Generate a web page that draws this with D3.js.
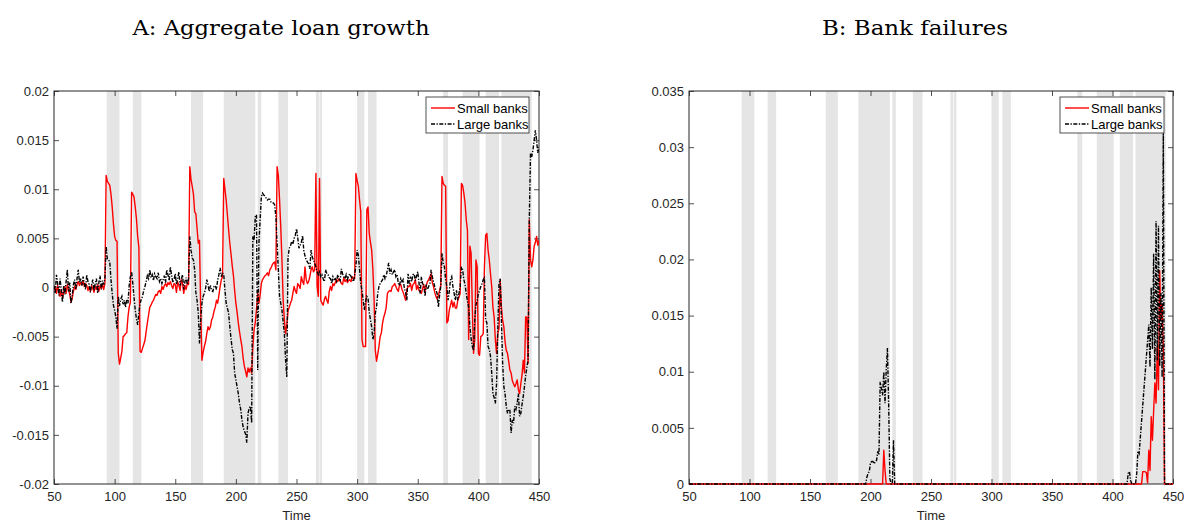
<!DOCTYPE html>
<html>
<head>
<meta charset="utf-8">
<script src="https://cdn.jsdelivr.net/npm/d3@7"></script>
<style>
  body { margin: 0; background: #fff; }
  svg { display: block; }
  .tick text { font-family: "Liberation Sans", Arial, sans-serif; font-size: 13px; fill: #262626; }
  .tick line { stroke: #262626; stroke-width: 0.8; }
</style>
</head>
<body>
<div id="chart"></div>
<script>
// Time axis: one observation per period, starting at T0
const T0 = 50;

// Shaded (crisis) periods, [start, end]
const shadedPeriods = [
  [93.5, 104], [115, 122], [163, 173], [190, 216], [218, 221], [235, 243],
  [266, 268.5], [269, 271], [300, 306], [309, 316], [371, 375], [387, 401],
  [406, 417], [419, 444]
];

// Panel A: aggregate loan growth, in units of 1e-3, t = 50..450
const smallLoanGrowth = [
  -0.3, 0.1, -0.6, 0.2, -0.4, -0.9, -0.2, -1.0, -0.5, 0.1,
  -0.6, 0.3, -0.2, -0.7, -1.5, -1.1, -0.4, 0.1, -0.2, 0.3,
  0.6, 0.2, 0.5, 0.3, 0.7, 0.1, 0.4, 0.2, -0.3, 0.1,
  -0.4, 0.2, -0.1, -0.5, 0.1, -0.2, 0.3, -0.4, 0.2, -0.1,
  0.3, -0.2, 0.4, 11.4, 10.8, 10.6, 10.4, 9.5, 8.2, 6.5,
  5.2, 4.8, 4.7, -6.7, -7.8, -7.2, -6.5, -5.0, -4.9, -4.7,
  -4.6, -3.0, -2.0, -1.5, 9.7, 9.5, 9.2, 8.2, 7.0, 5.2,
  4.1, -6.5, -6.6, -6.2, -5.8, -5.4, -4.5, -3.6, -2.8, -2.0,
  -1.8, -1.5, -1.3, -1.0, -0.7, -0.8, -0.4, -0.3, -0.6, 0.1,
  -0.2, 0.2, 0.4, 0.1, 0.5, 0.3, 0.6, 0.2, -0.1, 0.4,
  0.3, -0.5, 0.6, 0.2, -0.3, 0.8, 0.4, -0.6, 0.2, -0.2,
  0.5, 0.3, 12.3, 11.0, 10.3, 9.5, 7.7, 7.5, 6.0, 4.5,
  4.8, -2.3, -7.4, -6.6, -6.0, -5.5, -4.7, -4.0, -4.3, -4.0,
  -3.3, -3.0, -2.4, -2.0, -1.3, -1.6, -0.8, 0.1, 0.8, 1.1,
  11.1, 10.0, 8.9, 7.4, 5.9, 4.5, 3.4, 2.2, 1.2, -0.3,
  -1.6, -2.5, -3.6, -4.5, -5.3, -6.0, -7.2, -8.0, -8.5, -9.1,
  -8.2, -8.6, -8.2, -8.7, -6.0, -4.3, -3.6, -2.2, -0.6, -1.6,
  -0.8, 0.4, 0.8, 1.0, 1.2, 1.3, 1.5, 1.2, 1.8, 2.0,
  2.3, 2.5, 2.6, 1.8, 12.3, 11.4, 9.0, 6.2, 2.8, -1.3,
  -3.3, -4.7, -3.8, -2.4, -2.0, -1.6, -1.3, -0.6, 0.1, -0.3,
  -0.6, 0.4, 0.2, -0.1, 1.1, 0.6, 0.3, 2.1, 0.8, 0.4,
  0.6, 1.1, 1.8, 2.1, 1.6, 1.8, 11.6, 0.1, -0.9, 11.1,
  -1.3, -1.6, -1.8, -1.2, -0.9, -1.3, -1.6, -0.4, 0.1, -0.3,
  0.4, 0.2, 0.5, 0.8, 0.6, 0.9, 0.7, 0.4, 0.3, 1.0,
  0.6, 0.8, 0.5, 0.7, 0.8, 0.6, 1.1, 0.9, 0.9, 11.6,
  10.9, 10.3, 8.9, 7.7, -5.3, -6.0, -6.0, -6.0, 7.9, 8.2,
  5.5, 4.6, 3.8, 1.8, -1.3, -6.4, -7.5, -6.8, -6.0, -5.0,
  -4.6, -3.6, -3.0, -2.6, -2.0, -0.6, -0.4, -0.3, -0.4, 0.1,
  0.2, 0.4, 0.1, -0.2, -0.4, 0.3, 0.3, -0.2, -0.5, -0.9,
  -1.3, -0.2, 0.1, 0.1, 0.4, -0.3, 0.3, 0.4, 0.8, -0.2,
  0.2, -0.3, -0.4, -0.6, -0.1, 0.3, -0.4, 0.2, 0.6, 0.8,
  1.1, 1.4, 0.5, 0.1, -0.5, -0.9, -1.2, -0.8, -0.3, 0.2,
  11.3, 10.6, 10.4, 10.3, -3.6, -3.4, -2.3, -1.8, -1.3, -2.0,
  -1.5, -2.1, -2.1, -1.3, -1.0, -0.6, 10.6, 10.4, 9.6, 8.6,
  6.9, 5.8, -5.3, 4.2, 3.5, -2.0, -6.7, -5.3, 2.8, 2.1,
  -6.7, -6.9, -5.0, -4.9, -4.7, 2.1, 5.3, 5.5, 3.8, 2.8,
  1.4, 0.1, -2.0, -3.0, -5.3, -6.7, -4.7, -4.2, 0.8, -2.0,
  -3.3, -4.0, -5.5, -6.4, -6.7, -7.5, -8.4, -8.7, -9.5, -9.8,
  -10.1, -9.8, -9.4, -10.4, -10.8, -9.8, -8.9, -7.4, -8.7, -3.0,
  -3.0, -7.7, 6.9, 2.8, 2.1, 2.8, 4.2, 4.6, 5.2, 4.3,
  4.8
];

const largeLoanGrowth = [
  0.2, -0.6, 1.3, 0.4, -0.8, 0.9, -0.3, -1.5, 0.2, -0.7,
  0.6, 1.8, -0.4, 0.5, -1.6, -0.9, 0.3, 0.8, -0.2, 0.9,
  1.8, 0.5, 0.9, 0.2, 1.1, 0.4, -0.2, 1.3, 0.6, 0.3,
  -0.5, 0.3, 0.8, -0.3, 0.4, 0.9, -0.6, 0.5, 1.2, -0.2,
  0.7, 0.3, 0.9, 4.2, 2.9, 2.8, 2.6, 0.8, -0.6, -1.8,
  -2.3, -3.0, -4.2, -0.9, -1.9, -1.2, -0.9, -1.7, -1.3, -2.0,
  -1.2, -1.6, 0.2, 1.1, 1.6, 0.4, -1.0, -2.3, -3.2, -3.8,
  -2.6, -1.6, -1.2, -0.9, -0.3, 0.1, 0.6, 1.2, 0.9, 1.8,
  1.0, 1.3, 0.7, 1.4, 1.1, 0.9, 1.5, 0.6, 0.9, 0.4,
  0.8, 1.2, 0.5, 1.8, 1.3, 0.7, 2.1, 1.2, 0.5, 0.8,
  1.4, 0.3, 0.9, 1.6, 0.2, 0.8, 1.3, -0.2, 0.6, 1.0,
  0.3, 0.9, 5.2, 3.8, 3.0, 2.8, 1.8, -0.5, -1.3, -2.6,
  -5.7, -3.3, -1.6, -0.9, -0.6, -0.1, 0.8, 0.3, -0.4, 0.2,
  -0.3, -0.4, 0.1, 0.2, -0.2, 0.8, 1.3, 2.0, 1.1, 1.5,
  1.3, -0.3, -1.6, -2.1, -2.6, -4.0, -5.2, -6.3, -6.7, -8.7,
  -9.4, -10.1, -10.8, -11.8, -12.4, -13.5, -14.2, -14.6, -14.9, -15.8,
  -12.8, -12.3, -12.1, -13.8, 5.2, 4.8, 7.2, 7.4, -8.4, 4.5,
  6.9, 9.2, 9.6, 9.4, 9.3, 9.1, 8.9, 9.0, 9.0, 8.7,
  8.6, 8.6, 8.4, 7.2, 4.5, 1.8, -0.9, -1.6, -2.3, -3.5,
  -4.7, -7.4, -9.1, 3.0, 4.0, 4.2, 4.7, 4.4, 5.0, 5.3,
  6.0, 5.1, 4.0, 4.3, 4.6, 5.3, 3.8, 3.2, 2.8, 2.6,
  2.4, 1.9, 3.8, 3.1, 2.8, 2.5, 2.1, 1.6, 1.3, 1.6,
  1.1, 1.3, 0.9, 0.6, 1.8, 1.4, 1.3, 1.0, 0.9, 0.4,
  1.1, 0.8, 0.9, 0.6, 1.3, 0.9, 0.7, 1.9, 1.4, 1.1,
  0.9, 1.3, 0.8, 1.2, 1.4, 1.1, 0.9, 0.6, 1.3, 2.2,
  3.8, 3.3, 1.8, 0.4, -0.3, -1.3, -2.3, -1.4, -0.9, -1.1,
  -2.5, -3.3, -4.0, -5.3, -4.7, -2.6, -2.0, -0.6, 0.1, 0.4,
  0.6, 0.8, 1.3, 0.9, 1.2, 1.8, 2.5, 1.4, 1.8, 1.3,
  1.6, 1.8, 1.1, 1.3, 0.4, 0.2, 0.9, 0.6, 0.8, -0.1,
  -0.5, -1.3, 1.4, 0.4, 1.1, 0.6, 1.3, 1.4, 0.7, 1.2,
  1.6, 0.5, -0.6, 1.1, 0.4, 0.2, -0.9, 0.3, -0.2, 0.1,
  0.4, 1.8, 1.1, 0.6, 0.1, -0.3, -0.6, -2.0, -0.8, 0.1,
  3.5, 2.5, 2.1, 0.8, 0.1, -1.3, -0.4, 0.8, 1.1, 0.1,
  -0.6, -1.3, -0.3, -1.3, -0.6, 0.1, 2.1, 1.8, 0.8, 0.3,
  -0.6, -1.4, -2.0, -4.0, -5.2, -6.0, -6.4, -3.3, -1.8, -1.3,
  -0.6, -0.3, 0.1, 0.4, 0.8, 1.1, -3.3, -3.6, -6.0, -6.3,
  -7.0, -8.7, -10.8, -11.2, -11.8, -9.8, -4.3, 0.4, 0.9, -3.3,
  -7.7, -10.1, -10.8, -12.1, -12.8, -12.4, -12.5, -14.8, -13.5, -13.8,
  -12.1, -12.4, -11.8, -10.8, -13.1, -12.8, -11.9, -11.1, -10.1, -9.0,
  -8.1, -7.4, 6.9, 13.7, 13.3, 14.0, 15.0, 16.0, 15.0, 13.7,
  14.3
];

// Panel B: bank failures, [time, value in units of 1e-3]
const smallFailures = [
  [50, 0], [210, 0], [211, 3.0], [212, 1.2], [213, 0], [424, 0], [425, 1.1],
  [427, 1.1], [428, 1.0], [429, 0.1], [430, 3.0], [431, 1.2], [432, 6.0],
  [433, 3.9], [434, 6.5], [435, 9.0], [436, 7.2], [437, 12.2], [438, 8.4],
  [439, 19.0], [440, 14.6], [441, 16.0], [442, 12.0], [443, 0], [450, 0]
];

const largeFailures = [
  [50, 0], [196, 0], [197, 0.6], [198, 0.95], [199, 1.1], [200, 1.9], [201, 2.0],
  [202, 2.0], [203, 1.8], [204, 2.0], [205, 2.1], [206, 2.9], [207, 2.6],
  [208, 9.1], [209, 8.5], [210, 7.9], [211, 10.0], [212, 7.2], [213, 10.2],
  [214, 12.1], [215, 7.2], [216, 0.5], [217, 0], [218, 0], [219, 3.9], [220, 0],
  [412, 0], [413, 0.95], [414, 1.1], [415, 0.3], [416, 0], [419, 0], [420, 0.9],
  [421, 2.9], [422, 2.7], [430, 14.2], [431, 10.4], [432, 17.5], [433, 12.0],
  [434, 20.5], [435, 9.3], [436, 23.4], [437, 11.0], [438, 23.0], [439, 10.5],
  [440, 17.0], [441, 9.5], [442, 31.5], [443, 0], [450, 0]
];

const xTicks = [50, 100, 150, 200, 250, 300, 350, 400, 450];
const yTicksA = [-0.02, -0.015, -0.01, -0.005, 0, 0.005, 0.01, 0.015, 0.02];
const yTicksB = [0, 0.005, 0.01, 0.015, 0.02, 0.025, 0.03, 0.035];
const seriesNames = ['Small banks', 'Large banks'];

// Layout
const WIDTH = 1184, HEIGHT = 522;
const PANELS = [
  {
    id: 'A', title: 'A: Aggregate loan growth', titleX: 281, titleW: 297,
    left: 54, right: 539, top: 91, bottom: 484,
    yDomain: [-0.02, 0.02], yTicks: yTicksA,
    small: smallLoanGrowth.map((v, i) => [T0 + i, v]),
    large: largeLoanGrowth.map((v, i) => [T0 + i, v]),
    legend: { x: 426, y: 97, w: 103, h: 36 }
  },
  {
    id: 'B', title: 'B: Bank failures', titleX: 915, titleW: 186,
    left: 689, right: 1173, top: 91, bottom: 484,
    yDomain: [0, 0.035], yTicks: yTicksB,
    small: smallFailures, large: largeFailures,
    legend: { x: 1060, y: 97, w: 104, h: 36 }
  }
];

const RED = '#ff0000';
const AXIS = '#262626';
const DASH = '4,1.5,1.3,1.5';
const FONT = '"Liberation Sans", Arial, sans-serif';

const fmt = d => d === 0 ? '0' : String(+d.toFixed(3));

const svg = d3.select('#chart').append('svg')
  .attr('width', WIDTH)
  .attr('height', HEIGHT);

PANELS.forEach(p => drawPanel(svg, p));

function drawPanel(svg, p) {
  const x = d3.scaleLinear().domain([50, 450]).range([p.left, p.right]);
  const y = d3.scaleLinear().domain(p.yDomain).range([p.bottom, p.top]);

  // Title
  svg.append('text')
    .attr('x', p.titleX)
    .attr('y', 35)
    .attr('text-anchor', 'middle')
    .attr('textLength', p.titleW)
    .attr('lengthAdjust', 'spacingAndGlyphs')
    .style('font-family', '"DejaVu Serif", "Liberation Serif", serif')
    .style('font-size', '21px')
    .style('fill', '#000')
    .text(p.title);

  // Shaded periods
  svg.append('g')
    .selectAll('rect')
    .data(shadedPeriods)
    .join('rect')
    .attr('x', d => x(d[0]))
    .attr('width', d => x(d[1]) - x(d[0]))
    .attr('y', p.top)
    .attr('height', p.bottom - p.top)
    .attr('fill', '#e5e5e5');

  // Axes (MATLAB-style box with inward ticks)
  const bottomAxis = svg.append('g')
    .attr('transform', `translate(0, ${p.bottom})`)
    .call(d3.axisBottom(x).tickValues(xTicks).tickSize(-5).tickPadding(8).tickFormat(d3.format('d')));
  const leftAxis = svg.append('g')
    .attr('transform', `translate(${p.left}, 0)`)
    .call(d3.axisLeft(y).tickValues(p.yTicks).tickSize(-5).tickPadding(5).tickFormat(fmt));
  const topAxis = svg.append('g')
    .attr('transform', `translate(0, ${p.top})`)
    .call(d3.axisTop(x).tickValues(xTicks).tickSize(-5).tickFormat(''));
  const rightAxis = svg.append('g')
    .attr('transform', `translate(${p.right}, 0)`)
    .call(d3.axisRight(y).tickValues(p.yTicks).tickSize(-5).tickFormat(''));

  [bottomAxis, leftAxis, topAxis, rightAxis].forEach(a => a.select('.domain').remove());

  svg.append('rect')
    .attr('x', p.left).attr('y', p.top)
    .attr('width', p.right - p.left).attr('height', p.bottom - p.top)
    .attr('fill', 'none')
    .attr('stroke', AXIS)
    .attr('stroke-width', 1);

  // Clip for lines (a little slack so zero-valued lines show over the axis)
  const clipId = 'clip' + p.id;
  svg.append('clipPath').attr('id', clipId)
    .append('rect')
    .attr('x', p.left).attr('y', p.top)
    .attr('width', p.right - p.left).attr('height', p.bottom - p.top + 1);

  const line = d3.line()
    .x(d => x(d[0]))
    .y(d => y(d[1] * 1e-3));

  const lines = svg.append('g').attr('clip-path', `url(#${clipId})`);

  lines.append('path')
    .datum(p.small)
    .attr('d', line)
    .attr('fill', 'none')
    .attr('stroke', RED)
    .attr('stroke-width', 1.4)
    .attr('stroke-linejoin', 'round');

  lines.append('path')
    .datum(p.large)
    .attr('d', line)
    .attr('fill', 'none')
    .attr('stroke', '#000')
    .attr('stroke-width', 1.4)
    .attr('stroke-dasharray', DASH);

  svg.append('text')
    .attr('x', (p.left + p.right) / 2)
    .attr('y', 520)
    .attr('text-anchor', 'middle')
    .style('font-family', FONT)
    .style('font-size', '13px')
    .style('fill', AXIS)
    .text('Time');

  // Legend
  const lg = svg.append('g').attr('transform', `translate(${p.legend.x}, ${p.legend.y})`);
  lg.append('rect')
    .attr('width', p.legend.w).attr('height', p.legend.h)
    .attr('fill', '#fff')
    .attr('stroke', AXIS)
    .attr('stroke-width', 0.8);

  const items = lg.selectAll('.legend-item')
    .data(seriesNames)
    .join('g')
    .attr('class', 'legend-item')
    .attr('transform', (d, i) => `translate(0, ${11 + i * 16})`);

  items.append('line')
    .attr('x1', 5).attr('x2', 29)
    .attr('stroke', (d, i) => i === 0 ? RED : '#000')
    .attr('stroke-width', 1.4)
    .attr('stroke-dasharray', (d, i) => i === 0 ? null : DASH);

  items.append('text')
    .attr('x', 31)
    .attr('y', 4.5)
    .style('font-family', FONT)
    .style('font-size', '13px')
    .style('fill', '#000')
    .text(d => d);
}
</script>
</body>
</html>
